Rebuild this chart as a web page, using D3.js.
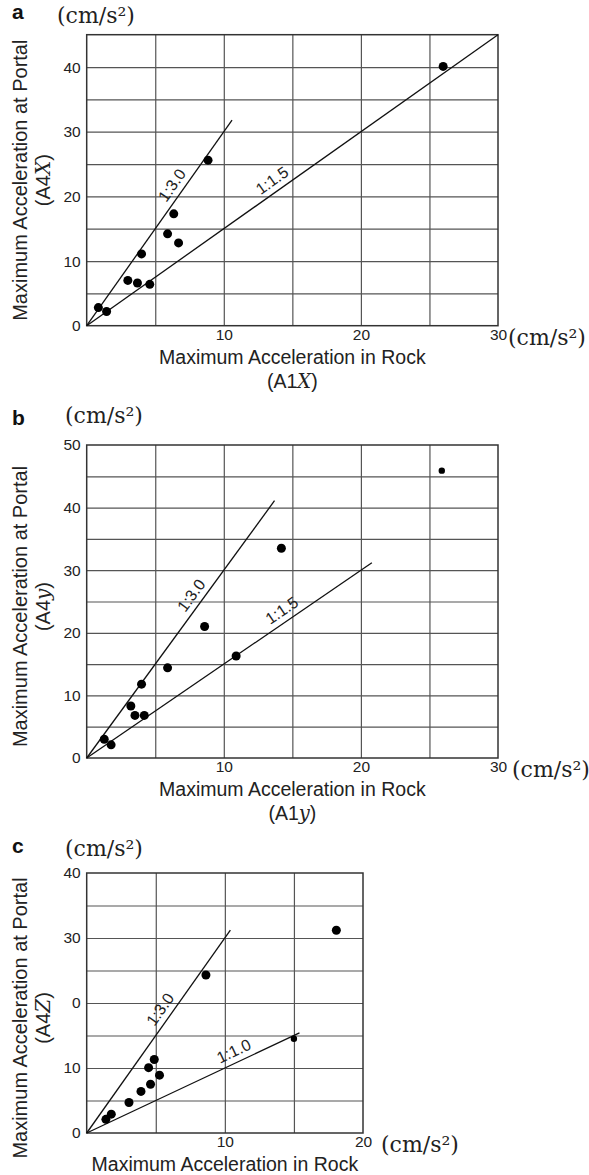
<!DOCTYPE html>
<html>
<head>
<meta charset="utf-8">
<script src="https://cdn.jsdelivr.net/npm/d3@7"></script>
<style>
  body { margin: 0; background: #fff; }
  svg { display: block; }
</style>
</head>
<body>
<svg id="fig" width="589" height="1175"></svg>
<script>
// ---- Panel a: horizontal x component (A1x rock vs A4x portal) ----
const rockA   = [0.85, 1.45, 3.0, 3.7, 4.0, 4.6, 5.9, 6.35, 6.7, 8.85, 26.0];
const portalA = [2.8, 2.2, 7.0, 6.6, 11.1, 6.4, 14.2, 17.3, 12.8, 25.6, 40.1];
const ratioSlopesA = [3.0, 1.5];
const ratioEndsA   = [10.6, 30];
const ratioLabelsA = ["1:3.0", "1:1.5"];
const ratioLabelAtA = [6.9, 14.0];
const yTicksA = [0, 10, 20, 30, 40];
const yTickLabelsA = ["0", "10", "20", "30", "40"];
const xTicksA = [10, 20, 30];

// ---- Panel b: horizontal y component (A1y rock vs A4y portal) ----
const rockB   = [1.28, 1.78, 3.22, 3.52, 4.0, 4.2, 5.9, 8.6, 10.9, 14.2, 25.9];
const portalB = [3.0, 2.1, 8.3, 6.8, 11.8, 6.8, 14.4, 21.0, 16.3, 33.5, 45.9];
const ratioSlopesB = [3.0, 1.5];
const ratioEndsB   = [13.7, 20.8];
const ratioLabelsB = ["1:3.0", "1:1.5"];
const ratioLabelAtB = [8.3, 14.7];
const yTicksB = [0, 10, 20, 30, 40, 50];
const yTickLabelsB = ["0", "10", "20", "30", "40", "50"];
const xTicksB = [10, 20, 30];

// ---- Panel c: vertical z component (A1z rock vs A4z portal) ----
const rockC   = [1.39, 1.78, 3.06, 3.93, 4.48, 4.62, 4.89, 5.27, 8.63, 15.0, 18.07];
const portalC = [2.1, 2.9, 4.7, 6.4, 10.05, 7.5, 11.3, 8.9, 24.3, 14.5, 31.2];
const ratioSlopesC = [3.0, 1.0];
const ratioEndsC   = [10.4, 15.4];
const ratioLabelsC = ["1:3.0", "1:1.0"];
const ratioLabelAtC = [6.0, 11.0];
const yTicksC = [0, 10, 20, 30, 40];
const yTickLabelsC = ["0", "10", "0", "30", "40"];
const xTicksC = [10, 20];

const svg = d3.select("#fig");
const SANS = "'Liberation Sans', Arial, Helvetica, sans-serif";
const SERIF = "'DejaVu Serif', 'Liberation Serif', serif";
const INK = "#222";

function styleTickText(s) {
  s.select(".domain").remove();
  s.selectAll("text")
    .attr("font-family", SANS)
    .attr("font-size", 15.5)
    .attr("fill", INK);
}

function drawPanel(p) {
  const x = d3.scaleLinear().domain([0, p.xMax]).range([p.left, p.right]);
  const y = d3.scaleLinear().domain([0, p.yMax]).range([p.bottom, p.top]);
  const g = svg.append("g");

  // 5-unit grid
  const gx = d3.range(5, p.xMax, 5);
  const gy = d3.range(5, p.yMax, 5);
  g.append("g")
    .attr("transform", `translate(0,${p.bottom})`)
    .call(d3.axisBottom(x).tickValues(gx).tickSize(-(p.bottom - p.top)).tickFormat(""))
    .call(s => s.select(".domain").remove())
    .call(s => s.selectAll(".tick line").attr("stroke", "#555").attr("stroke-width", 1.2));
  g.append("g")
    .attr("transform", `translate(${p.left},0)`)
    .call(d3.axisLeft(y).tickValues(gy).tickSize(-(p.right - p.left)).tickFormat(""))
    .call(s => s.select(".domain").remove())
    .call(s => s.selectAll(".tick line").attr("stroke", "#555").attr("stroke-width", 1.2));

  // frame
  g.append("rect")
    .attr("x", x(0)).attr("y", y(p.yMax))
    .attr("width", x(p.xMax) - x(0)).attr("height", y(0) - y(p.yMax))
    .attr("fill", "none").attr("stroke", "#333").attr("stroke-width", 1.5);

  // y tick labels
  g.append("g")
    .attr("transform", `translate(${p.left},0)`)
    .call(d3.axisLeft(y).tickValues(p.yTicks).tickSize(0).tickPadding(6)
      .tickFormat((d, i) => p.yTickLabels[i]))
    .call(styleTickText);

  // x tick labels
  g.append("g")
    .attr("transform", `translate(0,${p.bottom})`)
    .call(d3.axisBottom(x).tickValues(p.xTicks).tickSize(0).tickPadding(3).tickFormat(d3.format("d")))
    .call(styleTickText);

  // unit after last x tick
  g.append("text")
    .attr("x", x(p.xMax) + p.unitGap).attr("y", p.bottom + 19)
    .attr("font-family", SERIF).attr("font-size", 22).attr("fill", INK)
    .text("(cm/s²)");

  // unit above y axis
  g.append("text")
    .attr("x", p.unitX).attr("y", p.unitY)
    .attr("font-family", SERIF).attr("font-size", 22).attr("fill", INK)
    .text("(cm/s²)");

  // panel letter
  g.append("text")
    .attr("x", 12).attr("y", p.letterY)
    .attr("font-family", SANS).attr("font-weight", "bold").attr("font-size", 21).attr("fill", "#111")
    .text(p.letter);

  // ratio lines
  p.slopes.forEach((k, i) => {
    const xe = p.ends[i];
    g.append("line")
      .attr("x1", x(0)).attr("y1", y(0))
      .attr("x2", x(xe)).attr("y2", y(k * xe))
      .attr("stroke", "#111").attr("stroke-width", 1.3);
    const xa = p.labelAt[i];
    const px = x(xa), py = y(k * xa);
    const ang = Math.atan2(y(k) - y(0), x(1) - x(0));
    const off = 6;
    const tx = px + Math.sin(ang) * off, ty = py - Math.cos(ang) * off;
    g.append("text")
      .attr("transform", `translate(${tx},${ty}) rotate(${ang * 180 / Math.PI})`)
      .attr("text-anchor", "middle")
      .attr("font-family", SANS).attr("font-size", 16).attr("fill", INK)
      .text(p.labels[i]);
  });

  // observations
  g.append("g").selectAll("circle")
    .data(p.rock.map((r, i) => [r, p.portal[i], i]))
    .join("circle")
    .attr("cx", d => x(d[0])).attr("cy", d => y(d[1]))
    .attr("r", d => p.small.includes(d[2]) ? 3.2 : 4.5)
    .attr("fill", "#000");

  // x title
  const cx = (p.left + p.right) / 2;
  g.append("text")
    .attr("x", cx).attr("y", p.bottom + 38)
    .attr("text-anchor", "middle")
    .attr("font-family", SANS).attr("font-size", 19.5).attr("fill", INK)
    .text("Maximum Acceleration in Rock");
  if (p.showXSub) {
    const sub = g.append("text")
      .attr("x", cx).attr("y", p.bottom + 62)
      .attr("text-anchor", "middle")
      .attr("font-family", SANS).attr("font-size", 19.5).attr("fill", INK);
    sub.append("tspan").text("(A1");
    sub.append("tspan").attr("font-family", SERIF).attr("font-style", "italic").text(p.comp);
    sub.append("tspan").text(")");
  }

  // y title
  const cy = (p.top + p.bottom) / 2 + p.yTitleShift;
  g.append("text")
    .attr("transform", `translate(27,${cy}) rotate(-90)`)
    .attr("text-anchor", "middle")
    .attr("font-family", SANS).attr("font-size", 20).attr("fill", INK)
    .text("Maximum Acceleration at Portal");
  const ysub = g.append("text")
    .attr("transform", `translate(50,${cy}) rotate(-90)`)
    .attr("text-anchor", "middle")
    .attr("font-family", SANS).attr("font-size", 20).attr("fill", INK);
  ysub.append("tspan").text("(A4");
  ysub.append("tspan").attr("font-family", SERIF).attr("font-style", "italic").text(p.comp);
  ysub.append("tspan").text(")");
}

drawPanel({
  letter: "a", letterY: 19, unitX: 57, unitY: 23, comp: "X", showXSub: true, yTitleShift: 0,
  left: 86.7, right: 498, top: 34.7, bottom: 325.7, xMax: 30, yMax: 45, unitGap: 10,
  rock: rockA, portal: portalA, small: [],
  slopes: ratioSlopesA, ends: ratioEndsA, labels: ratioLabelsA, labelAt: ratioLabelAtA,
  yTicks: yTicksA, yTickLabels: yTickLabelsA, xTicks: xTicksA
});
drawPanel({
  letter: "b", letterY: 425, unitX: 65, unitY: 423, comp: "y", showXSub: true, yTitleShift: 5,
  left: 86.7, right: 498, top: 445, bottom: 758, xMax: 30, yMax: 50, unitGap: 14,
  rock: rockB, portal: portalB, small: [10],
  slopes: ratioSlopesB, ends: ratioEndsB, labels: ratioLabelsB, labelAt: ratioLabelAtB,
  yTicks: yTicksB, yTickLabels: yTickLabelsB, xTicks: xTicksB
});
drawPanel({
  letter: "c", letterY: 853, unitX: 65, unitY: 856, comp: "Z", showXSub: false, yTitleShift: 15,
  left: 86.7, right: 363, top: 873, bottom: 1133, xMax: 20, yMax: 40, unitGap: 18,
  rock: rockC, portal: portalC, small: [9],
  slopes: ratioSlopesC, ends: ratioEndsC, labels: ratioLabelsC, labelAt: ratioLabelAtC,
  yTicks: yTicksC, yTickLabels: yTickLabelsC, xTicks: xTicksC
});
</script>
</body>
</html>
